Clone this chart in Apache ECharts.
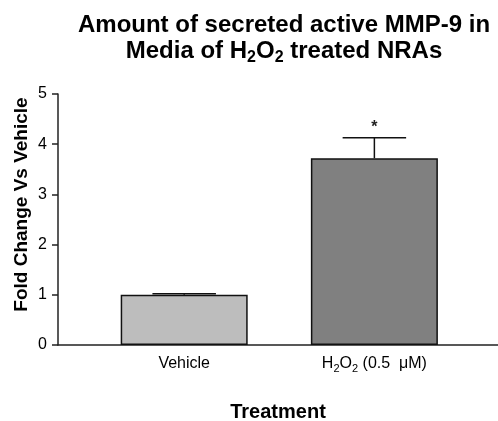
<!DOCTYPE html>
<html>
<head>
<meta charset="utf-8">
<script src="https://cdn.jsdelivr.net/npm/echarts@6/dist/echarts.min.js"></script>
<style>
  html, body { margin: 0; padding: 0; background: #fff; }
  #main { width: 498px; height: 421px; }
</style>
</head>
<body>
<div id="main"></div>
<script>
// 数据
var categories = ["Vehicle", "H2O2 (0.5 μM)"];
var positions = [1, 2];
var means = [1.0, 3.72];
var sems = [0.02, 0.41];
var sigMarks = ["", "*"];
var yTicks = [0, 1, 2, 3, 4, 5];

(function() {
  var myChart = echarts.init(document.getElementById("main"));
  var font = "Liberation Sans, Arial, sans-serif";
  var barW = 127;
  var barColors = ["#bdbdbd", "#808080"];

  var barData = positions.map(function(p, i) {
    return {
      value: [p, means[i]],
      itemStyle: { color: barColors[i] }
    };
  });
  var errData = positions.map(function(p, i) {
    return [p, means[i], sems[i], sigMarks[i]];
  });

  // 标签里的下标
  function catLabel(v) {
    var idx = positions.indexOf(v);
    if (idx < 0) return "";
    if (idx === 1) return "{n|H}{s|2}{n|O}{s|2}{n| (0.5  μM)}";
    return "{n|" + categories[idx] + "}";
  }

  var option = {
    animation: false,
    title: {
      text: "{b1|Amount of secreted active MMP-9 in}\n{b2|Media of H}{bs|2}{b2|O}{bs|2}{b2| treated NRAs}",
      left: 279,
      top: 10,
      textAlign: "center",
      textStyle: {
        rich: {
          b1: { fontFamily: font, fontWeight: "bold", fontSize: 24, color: "#000", lineHeight: 21 },
          b2: { fontFamily: font, fontWeight: "bold", fontSize: 24, color: "#000", lineHeight: 30 },
          bs: { fontFamily: font, fontWeight: "bold", fontSize: 16, color: "#000", lineHeight: 16, verticalAlign: "bottom" }
        }
      }
    },
    grid: {
      left: 58,
      right: 0,
      top: 94,
      bottom: 76,
      outerBoundsMode: "none"
    },
    xAxis: {
      type: "value",
      min: 0.3365,
      max: 2.65,
      splitLine: { show: false },
      axisTick: { show: false },
      axisLine: { show: true, onZero: false, lineStyle: { color: "#222", width: 1.5 } },
      axisLabel: {
        customValues: positions,
        margin: 9,
        formatter: catLabel,
        rich: {
          n: { fontFamily: font, fontSize: 16, color: "#000", lineHeight: 20 },
          s: { fontFamily: font, fontSize: 11, color: "#000", lineHeight: 20, verticalAlign: "bottom", padding: [5, 0, 0, 0] }
        }
      },
      name: "Treatment",
      nameLocation: "middle",
      nameGap: 57,
      nameMoveOverlap: false,
      nameTextStyle: { fontFamily: font, fontWeight: "bold", fontSize: 20, color: "#000" }
    },
    yAxis: {
      type: "value",
      min: 0,
      max: 5,
      interval: 1,
      splitLine: { show: false },
      axisLine: { show: true, lineStyle: { color: "#222", width: 1.5 } },
      axisTick: { show: true, inside: false, length: 6, lineStyle: { color: "#222", width: 1.5 } },
      axisLabel: {
        margin: 11,
        fontFamily: font,
        fontSize: 16,
        color: "#000"
      },
      name: "Fold Change Vs Vehicle",
      nameLocation: "middle",
      nameGap: 27,
      nameMoveOverlap: false,
      nameTextStyle: { fontFamily: font, fontWeight: "bold", fontSize: 19, color: "#000", padding: [0, 0, 0, 30] }
    },
    series: [
      {
        type: "bar",
        barWidth: barW,
        data: barData,
        itemStyle: { borderColor: "#111", borderWidth: 1.5 }
      },
      {
        // 误差线 + 显著性标记
        type: "custom",
        data: errData,
        z: 5,
        renderItem: function(params, api) {
          var x = api.value(0);
          var m = api.value(1);
          var e = api.value(2);
          var mark = sigMarks[params.dataIndex];
          var base = api.coord([x, m]);
          var top = api.coord([x, m + e]);
          var half = barW / 4;
          var st = { stroke: "#111", lineWidth: 1.5 };
          return {
            type: "group",
            children: [
              { type: "line", shape: { x1: base[0], y1: base[1], x2: top[0], y2: top[1] }, style: st },
              { type: "line", shape: { x1: top[0] - half, y1: top[1], x2: top[0] + half, y2: top[1] }, style: st },
              {
                type: "text",
                style: {
                  text: mark,
                  x: top[0],
                  y: top[1] - 2,
                  align: "center",
                  verticalAlign: "bottom",
                  font: "bold 16px " + font,
                  fill: "#222"
                }
              }
            ]
          };
        }
      }
    ]
  };

  myChart.setOption(option);
  window.addEventListener("resize", function() {
    myChart.resize();
  });
})();
</script>
</body>
</html>
